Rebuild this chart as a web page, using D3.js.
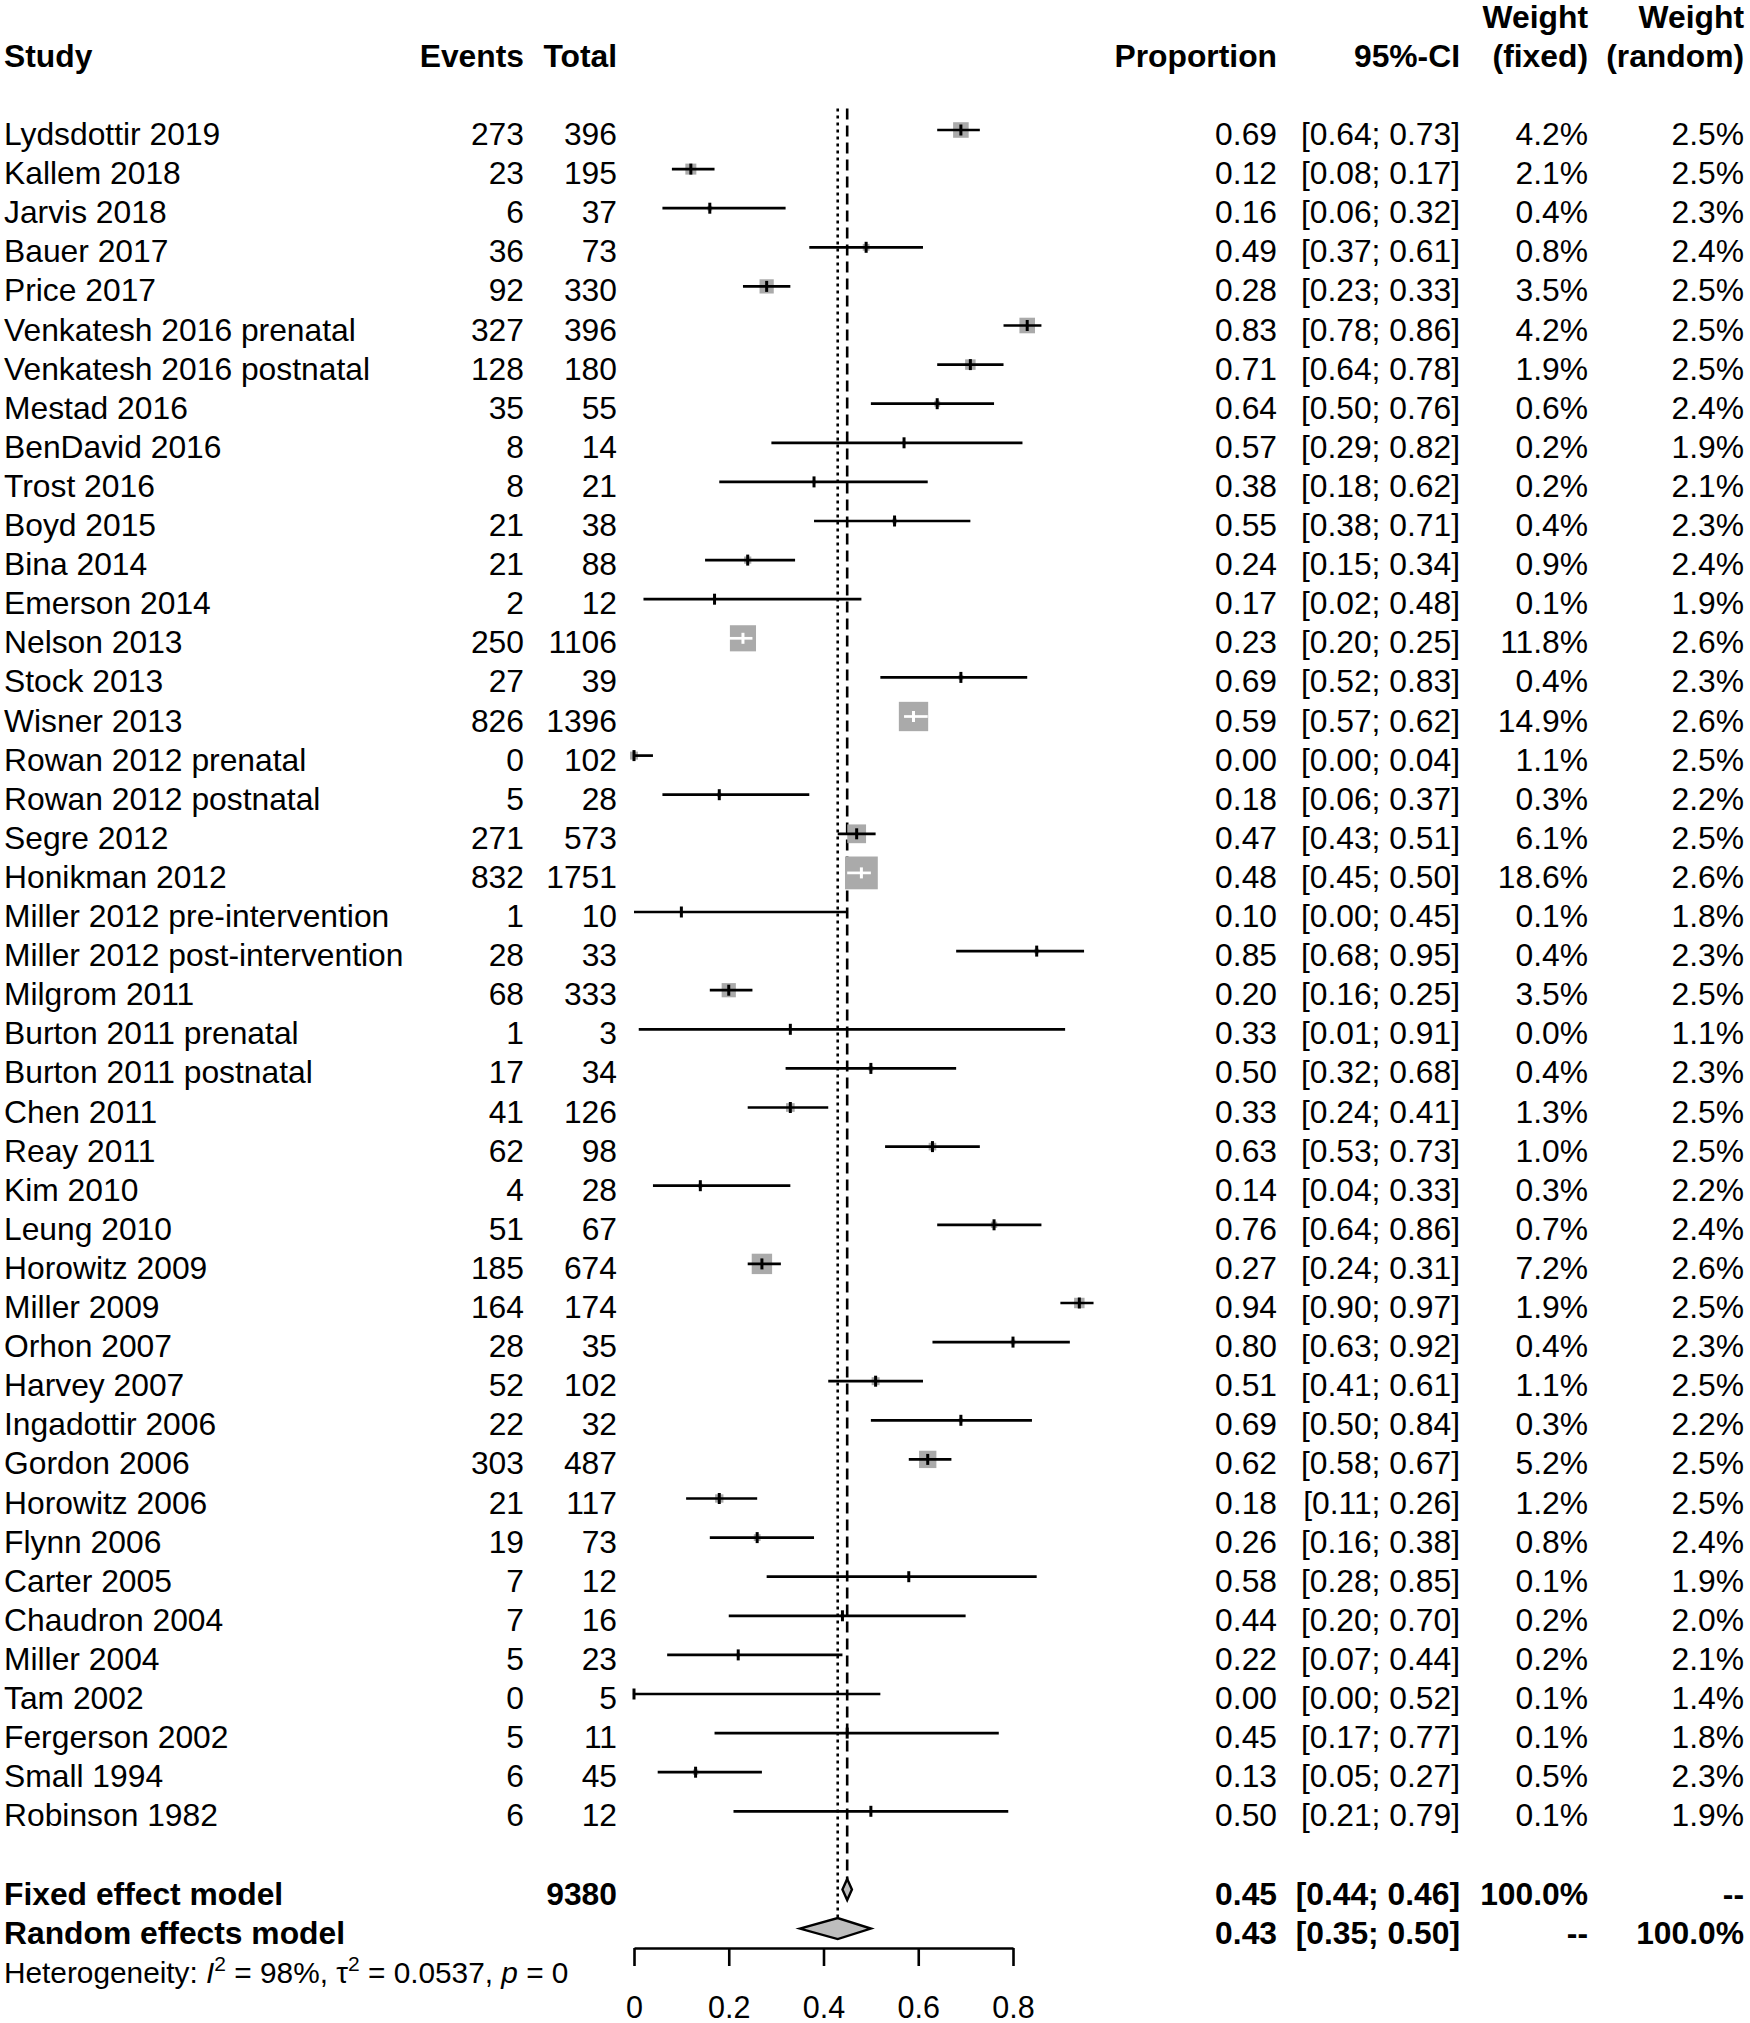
<!DOCTYPE html>
<html>
<head>
<meta charset="utf-8">
<script src="https://cdn.jsdelivr.net/npm/d3@7"></script>
<style>
  html, body { margin: 0; padding: 0; background: #ffffff; }
  svg { display: block; }
  text { font-family: "Liberation Sans", Arial, Helvetica, sans-serif; fill: #000; white-space: pre; }
</style>
</head>
<body>
<svg id="chart" width="1750" height="2023"></svg>
<script>
// ---------------- DATA ----------------
const studies = [
  "Lydsdottir 2019", "Kallem 2018", "Jarvis 2018", "Bauer 2017", "Price 2017",
  "Venkatesh 2016 prenatal", "Venkatesh 2016 postnatal", "Mestad 2016", "BenDavid 2016", "Trost 2016",
  "Boyd 2015", "Bina 2014", "Emerson 2014", "Nelson 2013", "Stock 2013",
  "Wisner 2013", "Rowan 2012 prenatal", "Rowan 2012 postnatal", "Segre 2012", "Honikman 2012",
  "Miller 2012 pre-intervention", "Miller 2012 post-intervention", "Milgrom 2011", "Burton 2011 prenatal", "Burton 2011 postnatal",
  "Chen 2011", "Reay 2011", "Kim 2010", "Leung 2010", "Horowitz 2009",
  "Miller 2009", "Orhon 2007", "Harvey 2007", "Ingadottir 2006", "Gordon 2006",
  "Horowitz 2006", "Flynn 2006", "Carter 2005", "Chaudron 2004", "Miller 2004",
  "Tam 2002", "Fergerson 2002", "Small 1994", "Robinson 1982"
];
const events = [273, 23, 6, 36, 92, 327, 128, 35, 8, 8, 21, 21, 2, 250, 27, 826, 0, 5, 271, 832,
  1, 28, 68, 1, 17, 41, 62, 4, 51, 185, 164, 28, 52, 22, 303, 21, 19, 7, 7, 5, 0, 5, 6, 6];
const totals = [396, 195, 37, 73, 330, 396, 180, 55, 14, 21, 38, 88, 12, 1106, 39, 1396, 102, 28, 573, 1751,
  10, 33, 333, 3, 34, 126, 98, 28, 67, 674, 174, 35, 102, 32, 487, 117, 73, 12, 16, 23, 5, 11, 45, 12];
const proportions = [0.69, 0.12, 0.16, 0.49, 0.28, 0.83, 0.71, 0.64, 0.57, 0.38, 0.55, 0.24, 0.17, 0.23, 0.69,
  0.59, 0.00, 0.18, 0.47, 0.48, 0.10, 0.85, 0.20, 0.33, 0.50, 0.33, 0.63, 0.14, 0.76, 0.27,
  0.94, 0.80, 0.51, 0.69, 0.62, 0.18, 0.26, 0.58, 0.44, 0.22, 0.00, 0.45, 0.13, 0.50];
const lowerCI = [0.64, 0.08, 0.06, 0.37, 0.23, 0.78, 0.64, 0.50, 0.29, 0.18, 0.38, 0.15, 0.02, 0.20, 0.52,
  0.57, 0.00, 0.06, 0.43, 0.45, 0.00, 0.68, 0.16, 0.01, 0.32, 0.24, 0.53, 0.04, 0.64, 0.24,
  0.90, 0.63, 0.41, 0.50, 0.58, 0.11, 0.16, 0.28, 0.20, 0.07, 0.00, 0.17, 0.05, 0.21];
const upperCI = [0.73, 0.17, 0.32, 0.61, 0.33, 0.86, 0.78, 0.76, 0.82, 0.62, 0.71, 0.34, 0.48, 0.25, 0.83,
  0.62, 0.04, 0.37, 0.51, 0.50, 0.45, 0.95, 0.25, 0.91, 0.68, 0.41, 0.73, 0.33, 0.86, 0.31,
  0.97, 0.92, 0.61, 0.84, 0.67, 0.26, 0.38, 0.85, 0.70, 0.44, 0.52, 0.77, 0.27, 0.79];
const weightFixed = [4.2, 2.1, 0.4, 0.8, 3.5, 4.2, 1.9, 0.6, 0.2, 0.2, 0.4, 0.9, 0.1, 11.8, 0.4,
  14.9, 1.1, 0.3, 6.1, 18.6, 0.1, 0.4, 3.5, 0.0, 0.4, 1.3, 1.0, 0.3, 0.7, 7.2,
  1.9, 0.4, 1.1, 0.3, 5.2, 1.2, 0.8, 0.1, 0.2, 0.2, 0.1, 0.1, 0.5, 0.1];
const weightRandom = [2.5, 2.5, 2.3, 2.4, 2.5, 2.5, 2.5, 2.4, 1.9, 2.1, 2.3, 2.4, 1.9, 2.6, 2.3,
  2.6, 2.5, 2.2, 2.5, 2.6, 1.8, 2.3, 2.5, 1.1, 2.3, 2.5, 2.5, 2.2, 2.4, 2.6,
  2.5, 2.3, 2.5, 2.2, 2.5, 2.5, 2.4, 1.9, 2.0, 2.1, 1.4, 1.8, 2.3, 1.9];

const fixedModel = { label: "Fixed effect model", total: 9380, est: 0.45, lo: 0.44, hi: 0.46, wf: "100.0%", wr: "--" };
const randomModel = { label: "Random effects model", est: 0.43, lo: 0.35, hi: 0.50, wf: "--", wr: "100.0%" };
const heterogeneity = { I2: "98%", tau2: "0.0537", p: "0" };

const headerTop = ["Weight", "Weight"];
const headerMain = ["Study", "Events", "Total", "Proportion", "95%-CI", "(fixed)", "(random)"];
const axisTicks = [0, 0.2, 0.4, 0.6, 0.8];
const axisTickLabels = ["0", "0.2", "0.4", "0.6", "0.8"];

// ---------------- LAYOUT ----------------
const svg = d3.select("#chart");
svg.append("rect").attr("width", 1750).attr("height", 2023).attr("fill", "#fff");

const FS = 31.8;
const x = d3.scaleLinear().domain([0, 0.8]).range([634, 1013]);
const row = d3.scaleLinear().domain([0, 47]).range([130, 130 + 47 * 39.1]);
const BASE = 15; // text baseline offset from row centre

const col = { study: 4, events: 524, total: 617, prop: 1277, ci: 1460, wf: 1588, wr: 1744 };
const gray = "#aaaaaa";
const diamondGray = "#bdbdbd";

function txt(g, xx, yy, s, anchor, bold, size) {
  return g.append("text").attr("x", xx).attr("y", yy).attr("text-anchor", anchor || "start")
    .attr("font-weight", bold ? "bold" : "normal").attr("font-size", size || FS).text(s);
}

// headers
const gh = svg.append("g");
const hdrX = [col.study, col.events, col.total, col.prop, col.ci, col.wf, col.wr];
headerMain.forEach((h, i) => txt(gh, hdrX[i], row(-2) + BASE, h, i === 0 ? "start" : "end", true));
txt(gh, col.wf, row(-3) + BASE, headerTop[0], "end", true);
txt(gh, col.wr, row(-3) + BASE, headerTop[1], "end", true);

// reference lines
svg.append("line").attr("x1", x(fixedModel.est)).attr("x2", x(fixedModel.est))
  .attr("y1", row(-0.5) - 2).attr("y2", row(45) - 10)
  .attr("stroke", "#000").attr("stroke-width", 2.6).attr("stroke-dasharray", "11,6");
svg.append("line").attr("x1", x(randomModel.est)).attr("x2", x(randomModel.est))
  .attr("y1", row(-0.5) - 2).attr("y2", row(46) - 10)
  .attr("stroke", "#000").attr("stroke-width", 2.6).attr("stroke-dasharray", "3,4");

// study rows
const gs = svg.append("g");
studies.forEach((name, i) => {
  const yc = row(i), yb = yc + BASE;
  txt(gs, col.study, yb, name, "start", false);
  txt(gs, col.events, yb, String(events[i]), "end", false);
  txt(gs, col.total, yb, String(totals[i]), "end", false);
  txt(gs, col.prop, yb, proportions[i].toFixed(2), "end", false);
  txt(gs, col.ci, yb, "[" + lowerCI[i].toFixed(2) + "; " + upperCI[i].toFixed(2) + "]", "end", false);
  txt(gs, col.wf, yb, weightFixed[i].toFixed(1) + "%", "end", false);
  txt(gs, col.wr, yb, weightRandom[i].toFixed(1) + "%", "end", false);

  const side = 7.6 * Math.sqrt(weightFixed[i]);
  const cx = x(proportions[i]);
  if (side > 0) {
    gs.append("rect").attr("x", cx - side / 2).attr("y", yc - side / 2)
      .attr("width", side).attr("height", side).attr("fill", gray);
  }
  const inside = (x(upperCI[i]) - x(lowerCI[i])) < side;
  const c = inside ? "#fff" : "#000";
  gs.append("line").attr("x1", x(lowerCI[i])).attr("x2", x(upperCI[i]))
    .attr("y1", yc).attr("y2", yc).attr("stroke", c).attr("stroke-width", 2.7);
  gs.append("line").attr("x1", cx).attr("x2", cx).attr("y1", yc - 5.5).attr("y2", yc + 5.5)
    .attr("stroke", c).attr("stroke-width", 3);
});

// summary rows
function diamond(m, yc, h) {
  const pts = [[x(m.lo), yc], [x(m.est), yc - h], [x(m.hi), yc], [x(m.est), yc + h]];
  svg.append("polygon").attr("points", pts.map(p => p.join(",")).join(" "))
    .attr("fill", diamondGray).attr("stroke", "#000").attr("stroke-width", 2.4);
}
const gm = svg.append("g");
[[fixedModel, 45], [randomModel, 46]].forEach(([m, r]) => {
  const yb = row(r) + BASE;
  txt(gm, col.study, yb, m.label, "start", true);
  if (m.total) txt(gm, col.total, yb, String(m.total), "end", true);
  txt(gm, col.prop, yb, m.est.toFixed(2), "end", true);
  txt(gm, col.ci, yb, "[" + m.lo.toFixed(2) + "; " + m.hi.toFixed(2) + "]", "end", true);
  txt(gm, col.wf, yb, m.wf, "end", true);
  txt(gm, col.wr, yb, m.wr, "end", true);
  diamond(m, row(r), 10.5);
});

// heterogeneity
const ht = svg.append("text").attr("x", col.study).attr("y", row(47) + BASE).attr("font-size", 29.8);
ht.append("tspan").text("Heterogeneity: ");
ht.append("tspan").attr("font-style", "italic").text("I");
ht.append("tspan").attr("font-size", 21).attr("dy", -12).text("2");
ht.append("tspan").attr("dy", 12).text(" = " + heterogeneity.I2 + ", \u03C4");
ht.append("tspan").attr("font-size", 21).attr("dy", -12).text("2");
ht.append("tspan").attr("dy", 12).text(" = " + heterogeneity.tau2 + ", ");
ht.append("tspan").attr("font-style", "italic").text("p");
ht.append("tspan").text(" = " + heterogeneity.p);

// axis
const axis = d3.axisBottom(x).tickValues(axisTicks)
  .tickFormat((d, i) => axisTickLabels[i]).tickSize(18).tickSizeOuter(0).tickPadding(30);
const ga = svg.append("g").attr("transform", "translate(0,1948)").call(axis);
ga.select(".domain").attr("stroke", "#000").attr("stroke-width", 2.6);
ga.selectAll(".tick line").attr("stroke", "#000").attr("stroke-width", 2.6);
ga.selectAll(".tick text").attr("font-size", 30.5)
  .attr("font-family", "'Liberation Sans', Arial, sans-serif").attr("fill", "#000");
</script>
</body>
</html>
